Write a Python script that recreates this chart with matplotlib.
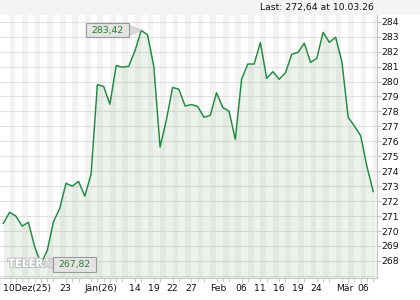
import matplotlib
matplotlib.use('Agg')
import matplotlib.pyplot as plt
import matplotlib.patheffects as pe
from matplotlib.path import Path
import numpy as np

# ---- data ----
values = [270.51, 271.25, 271.00, 270.33, 270.58, 268.95, 267.82, 268.68, 270.62, 271.52,
          273.19, 273.00, 273.32, 272.33, 273.81, 279.79, 279.67, 278.48, 281.07, 280.96,
          281.02, 282.06, 283.42, 283.12, 281.02, 275.62, 277.42, 279.61, 279.48, 278.36,
          278.46, 278.33, 277.61, 277.73, 279.25, 278.27, 278.01, 276.13, 280.15, 281.17,
          281.17, 282.61, 280.21, 280.66, 280.15, 280.59, 281.82, 281.95, 282.56, 281.28,
          281.55, 283.29, 282.62, 282.96, 281.32, 277.61, 277.02, 276.37, 274.30, 272.64]
x_labels = ["10Dez(25)", "23", "Jän(26)", "14", "19", "22", "27", "Feb", "06", "11",
            "16", "19", "24", "Mär", "06"]
x_label_pos = [0, 9, 13, 20, 23, 26, 29, 33, 37, 40, 43, 46, 49, 53, 56.4]
y_ticks = list(range(268, 285))
grid_levels = list(range(267, 285))
last_value = 272.64
last_date = "10.03.26"

FS = 6.7
plt.rcParams['font.family'] = ['DejaVu Sans']

fig = plt.figure(figsize=(4.2, 3.0), dpi=100)
fig.patch.set_facecolor('white')
# header band
fig.add_artist(plt.Rectangle((0, 1 - 15 / 300), 1, 15 / 300, transform=fig.transFigure,
                             facecolor='#f4f4f4', edgecolor='none', zorder=0))
fig.text(374 / 420, 1 - 7.6 / 300, "Last: %s at %s" % (f"{last_value:.2f}".replace('.', ','), last_date),
         ha='right', va='center', fontsize=FS, color='#111111')

ax = fig.add_axes([0, 1 - 277.5 / 300, 376.7 / 420, (277.5 - 15) / 300])
ax.set_facecolor('white')
x = np.arange(len(values))
ax.set_xlim(-0.53, len(values) - 0.45)
ax.set_ylim(266.89, 284.45)

# alternating day stripes
for i in range(1, len(values), 2):
    ax.axvspan(i, i + 0.92, color='#f3f3f3', lw=0, zorder=0)

for lv in grid_levels:
    ax.axhline(lv, color='#e0e0e0', lw=0.8, zorder=1)

ax.fill_between(x, values, 266.0, color='#5d8f5d', alpha=0.11, lw=0, zorder=2)
ax.plot(x, values, color='#1f8a3e', lw=1.05, zorder=3)

# spines
for s in ['top', 'left']:
    ax.spines[s].set_visible(False)
for s in ['right', 'bottom']:
    ax.spines[s].set_color('#c8c8c8')
    ax.spines[s].set_linewidth(0.8)

ax.yaxis.tick_right()
ax.set_yticks(y_ticks)
ax.set_yticklabels([str(v) for v in y_ticks])
ax.tick_params(axis='y', length=3, width=0.7, color='#c0c0c0', pad=0.6,
               labelsize=FS, labelcolor='#111111')

ax.set_xticks(x_label_pos)
ax.set_xticklabels(x_labels)
for lab in ax.get_xticklabels():
    lab.set_ha('left')
ax.set_xticks(x, minor=True)
ax.tick_params(axis='x', which='major', length=0, pad=4.8, labelsize=FS, labelcolor='#111111')
ax.tick_params(axis='x', which='minor', length=2.6, width=0.7, color='#c8c8c8')


def make_box(padx, pady):
    def box(x0, y0, width, height, mutation_size):
        xa, ya = x0 - padx, y0 - pady
        xb, yb = x0 + width + padx, y0 + height + pady
        return Path([(xa, ya), (xb, ya), (xb, yb), (xa, yb), (xa, ya)],
                    [Path.MOVETO, Path.LINETO, Path.LINETO, Path.LINETO, Path.CLOSEPOLY])
    return box


def fmt(v):
    return f"{v:.2f}".replace('.', ',')


hi = int(np.argmax(values))
lo = int(np.argmin(values))
arrow = dict(arrowstyle='wedge,tail_width=0.75,shrink_factor=0.5', fc='#dadada',
             ec='#c4c4c4', lw=0.5, shrinkA=0, shrinkB=0, mutation_scale=10)
bb = dict(boxstyle=make_box(5.2, 2.6), fc='#e4e4e4', ec='#9a9a9a', lw=0.8)
ax.annotate(fmt(values[hi]), xy=(hi, values[hi]), xytext=(-24.5, 0.0),
            textcoords='offset points', ha='center', va='center', fontsize=FS,
            color='#2a7d2a', bbox=bb, arrowprops=arrow, zorder=6)
ax.annotate(fmt(values[lo]), xy=(lo, values[lo]), xytext=(24.3, -0.6),
            textcoords='offset points', ha='center', va='center', fontsize=FS,
            color='#2a7d2a', bbox=dict(bb), arrowprops=dict(arrow), zorder=6)

# watermark (partly hidden behind the low-value label, as in the original)
ax.text(8 / 376.7, (277.5 - 264) / 262.5, "TELERADER", transform=ax.transAxes,
        ha='left', va='center', fontsize=8.2, fontweight='bold', fontstretch='condensed',
        color='white', zorder=5,
        path_effects=[pe.withStroke(linewidth=1.6, foreground='#c2c2c2')])

fig.savefig('out.png', dpi=100)
